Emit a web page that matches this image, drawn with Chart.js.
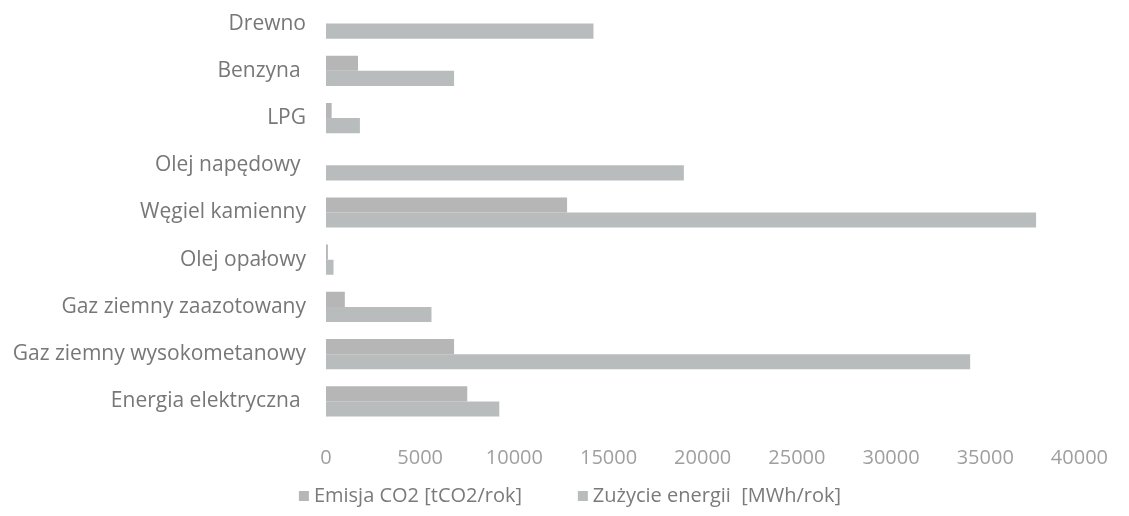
<!DOCTYPE html>
<html>
<head>
<meta charset="utf-8">
<script src="https://cdn.jsdelivr.net/npm/chart.js@4"></script>
<style>
  html, body { margin: 0; padding: 0; background: #fff; }
  #wrap { width: 1129px; height: 516px; }
</style>
</head>
<body>
<div id="wrap"><canvas id="energyChart"></canvas></div>
<script>
const categories = [
  "Drewno",
  "Benzyna ",
  "LPG",
  "Olej napędowy ",
  "Węgiel kamienny",
  "Olej opałowy",
  "Gaz ziemny zaazotowany",
  "Gaz ziemny wysokometanowy",
  "Energia elektryczna ",
];
const emisjaCO2 = [0, 1700, 300, 0, 12800, 100, 1000, 6800, 7500];
const zuzycieEnergii = [14200, 6800, 1800, 19000, 37700, 400, 5600, 34200, 9200];
const xTicks = [0, 5000, 10000, 15000, 20000, 25000, 30000, 35000, 40000];

const fontFamily = "'Open Sans', 'DejaVu Sans', sans-serif";

// legend sits a bit right of centre in the original
const legendShift = {
  id: "legendShift",
  afterLayout(chart) {
    chart.legend.left += 24;
    chart.legend.right += 24;
  },
};

new Chart(document.getElementById("energyChart"), {
  type: "bar",
  data: {
    labels: categories,
    datasets: [
      {
        label: "Emisja CO2 [tCO2/rok]         ",
        data: emisjaCO2,
        backgroundColor: "#b6b6b6",
        categoryPercentage: 0.64,
        barPercentage: 1.0,
      },
      {
        label: "Zużycie energii  [MWh/rok]",
        data: zuzycieEnergii,
        backgroundColor: "#b9bcbc",
        categoryPercentage: 0.64,
        barPercentage: 1.0,
      },
    ],
  },
  plugins: [legendShift],
  options: {
    indexAxis: "y",
    responsive: true,
    maintainAspectRatio: false,
    animation: false,
    layout: { padding: { top: 0, right: 32, bottom: 0, left: 0 } },
    plugins: {
      tooltip: { enabled: false },
      legend: {
        position: "bottom",
        labels: {
          usePointStyle: true,
          pointStyle: "rect",
          boxWidth: 0.01,
          boxHeight: 10,
          padding: 14,
          color: "#7a7a7a",
          font: { family: fontFamily, size: 20 },
        },
      },
    },
    scales: {
      x: {
        min: 0,
        max: 40000,
        afterBuildTicks: (scale) => {
          scale.ticks = xTicks.map((v) => ({ value: v }));
        },
        afterFit: (scale) => {
          scale.height = 47;
        },
        grid: { display: false, drawTicks: false },
        border: { display: false },
        ticks: {
          padding: 21,
          color: "#9f9f9f",
          font: { family: fontFamily, size: 20 },
          callback: (value) => String(value),
        },
      },
      y: {
        afterFit: (scale) => {
          scale.width = 326;
          scale.paddingTop = 0;
          scale.paddingBottom = 0;
        },
        grid: { display: false, drawTicks: false },
        border: { display: false },
        ticks: {
          padding: 20,
          color: "#777777",
          font: { family: fontFamily, size: 21 },
        },
      },
    },
  },
});
</script>
</body>
</html>
